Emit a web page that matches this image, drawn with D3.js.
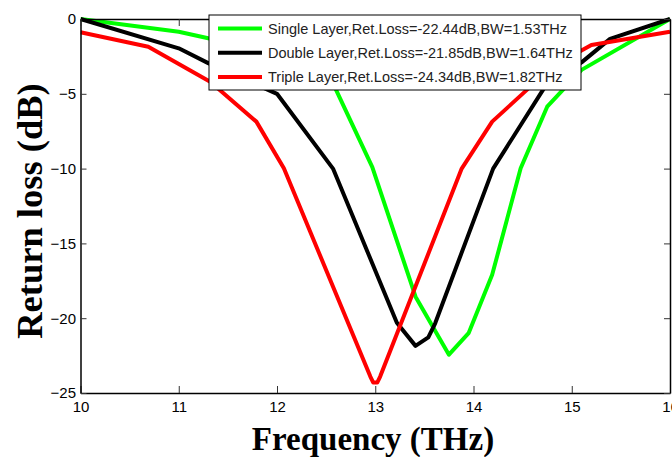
<!DOCTYPE html>
<html>
<head>
<meta charset="utf-8">
<script src="https://cdn.jsdelivr.net/npm/d3@7"></script>
<style>
  body { margin: 0; background: #fff; }
  svg { display: block; }
</style>
</head>
<body>
<svg id="chart" width="672" height="457"></svg>
<script>
// ---- data ----
const xTicks = [10, 11, 12, 13, 14, 15, 16];
const yTicks = [-25, -20, -15, -10, -5, 0];

const freqSingle = [10, 11, 11.3, 11.8, 12.3, 12.57, 12.97, 13.41, 13.75, 13.95, 14.19, 14.48, 14.75, 15.1, 16];
const lossSingle = [0, -0.85, -1.29, -1.9, -3.0, -4.3, -9.9, -18.56, -22.44, -21.0, -17.1, -9.98, -5.86, -3.4, 0];

const freqDouble = [10, 11, 11.3, 12.0, 12.57, 13.22, 13.41, 13.54, 13.61, 14.2, 14.72, 15.1, 15.39, 16];
const lossDouble = [0, -1.96, -2.95, -5.0, -10.0, -20.3, -21.85, -21.28, -20.34, -10.0, -4.6, -2.9, -1.33, 0];

const freqTriple = [10, 10.69, 11.32, 11.79, 12.07, 12.95, 12.98, 13.02, 13.05, 13.88, 14.19, 14.8, 15.2, 16];
const lossTriple = [-0.89, -1.85, -4.19, -6.86, -9.98, -23.9, -24.3, -24.3, -23.9, -10.0, -6.86, -3.2, -1.74, -0.85];

const seriesNames = [
  "Single Layer,Ret.Loss=-22.44dB,BW=1.53THz",
  "Double Layer,Ret.Loss=-21.85dB,BW=1.64THz",
  "Triple Layer,Ret.Loss=-24.34dB,BW=1.82THz"
];
const seriesColors = ["#00ff00", "#000000", "#ff0000"];

const xTitle = "Frequency (THz)";
const yTitle = "Return loss (dB)";

// ---- layout ----
const L = 80.5, R = 670, T = 19, B = 393;
const svg = d3.select("#chart");
const x = d3.scaleLinear().domain([10, 16]).range([L, R]);
const y = d3.scaleLinear().domain([-25, 0]).range([B, T]);

const series = [
  freqSingle.map((f, i) => [f, lossSingle[i]]),
  freqDouble.map((f, i) => [f, lossDouble[i]]),
  freqTriple.map((f, i) => [f, lossTriple[i]])
];

// clip
svg.append("defs").append("clipPath").attr("id", "clip")
  .append("rect").attr("x", L).attr("y", T - 3).attr("width", R - L + 3).attr("height", B - T + 3);

const line = d3.line().x(d => x(d[0])).y(d => y(d[1]));
const g = svg.append("g").attr("clip-path", "url(#clip)");
series.forEach((s, i) => {
  g.append("path").datum(s).attr("d", line)
    .attr("fill", "none").attr("stroke", seriesColors[i])
    .attr("stroke-width", 4).attr("stroke-linejoin", "round");
});

// axes
const font = "'Liberation Sans', Arial, sans-serif";
const axB = svg.append("g").attr("transform", `translate(0,${B})`)
  .call(d3.axisBottom(x).tickValues(xTicks).tickFormat(d3.format("d")).tickSizeInner(-7).tickSizeOuter(0).tickPadding(8));
const axL = svg.append("g").attr("transform", `translate(${L},0)`)
  .call(d3.axisLeft(y).tickValues(yTicks).tickFormat(d3.format("d")).tickSizeInner(-6).tickSizeOuter(0).tickPadding(4.5));
const axT = svg.append("g").attr("transform", `translate(0,${T})`)
  .call(d3.axisTop(x).tickValues(xTicks).tickFormat("").tickSizeInner(-7).tickSizeOuter(0));
const axR = svg.append("g").attr("transform", `translate(${R},0)`)
  .call(d3.axisRight(y).tickValues(yTicks).tickFormat("").tickSizeInner(-6).tickSizeOuter(0));
[axB, axL, axT, axR].forEach(a => {
  a.select(".domain").attr("stroke", "#000").attr("stroke-width", 1.5);
  a.selectAll(".tick line").attr("stroke", "#333").attr("stroke-width", 1);
  a.selectAll("text").attr("font-family", font).attr("font-size", 15).attr("fill", "#000");
});

// legend
const lg = svg.append("g");
lg.append("rect").attr("x", 209).attr("y", 15).attr("width", 372).attr("height", 75)
  .attr("fill", "#fff").attr("stroke", "#000").attr("stroke-width", 1);
seriesNames.forEach((n, i) => {
  const yy = 28.5 + i * 24.2;
  lg.append("line").attr("x1", 218).attr("x2", 262).attr("y1", yy).attr("y2", yy)
    .attr("stroke", seriesColors[i]).attr("stroke-width", 4);
  lg.append("text").attr("x", 268).attr("y", yy + 5.5).text(n)
    .attr("font-family", font).attr("font-size", 14.5).attr("fill", "#222");
});

// titles
svg.append("text").attr("x", 373).attr("y", 450).attr("text-anchor", "middle")
  .attr("font-family", "'Liberation Serif', 'Times New Roman', serif").attr("font-weight", "bold")
  .attr("font-size", 33).text(xTitle);
svg.append("text").attr("transform", "translate(42,211) rotate(-90)").attr("text-anchor", "middle")
  .attr("font-family", "'Liberation Serif', 'Times New Roman', serif").attr("font-weight", "bold")
  .attr("font-size", 36.5).text(yTitle);
</script>
</body>
</html>
